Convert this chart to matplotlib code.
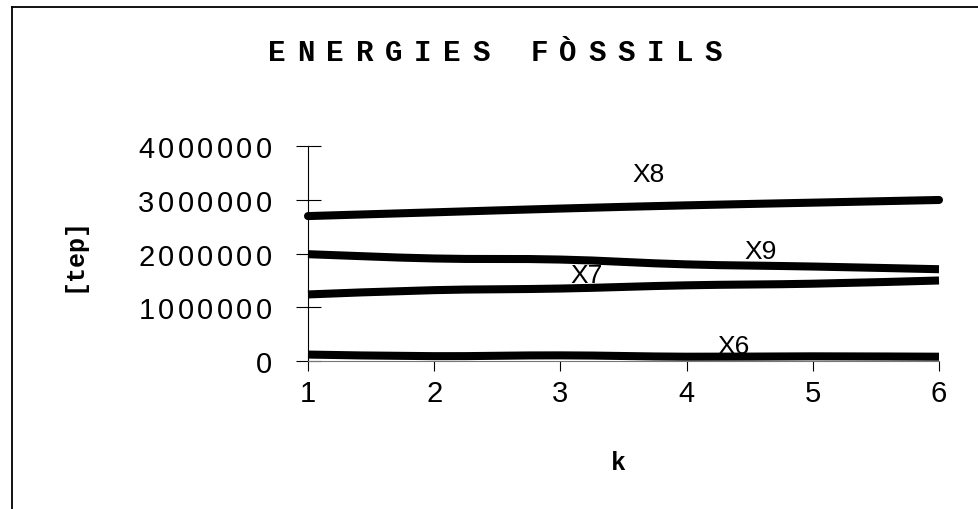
import numpy as np
import matplotlib
matplotlib.use("Agg")
import matplotlib.pyplot as plt
from matplotlib.path import Path
from matplotlib.patches import PathPatch
from matplotlib.lines import Line2D
import matplotlib.transforms as mtransforms

# ---- data -------------------------------------------------------------
k = [1, 2, 3, 4, 5, 6]
x6 = [120000, 90000, 105000, 80000, 87000, 80000]
x7 = [1240000, 1320000, 1350000, 1410000, 1440000, 1500000]
x8 = [2700000, 2770000, 2840000, 2900000, 2950000, 3000000]
x9 = [1990000, 1910000, 1890000, 1800000, 1760000, 1710000]
series_names = ["X6", "X7", "X8", "X9"]
series_values = [x6, x7, x8, x9]
label_k = [4.37, 3.21, 3.70, 4.59]
label_y = [280000, 1600000, 3490000, 2050000]
y_ticks = [0, 1000000, 2000000, 3000000, 4000000]
title = "ENERGIES FÒSSILS"
x_title = "k"
y_title = "[tep]"

W, H, DPI = 979, 510, 100
MONO = ["Liberation Mono", "DejaVu Sans Mono"]
SANS = ["Liberation Sans Narrow", "Liberation Sans", "DejaVu Sans"]


def smooth_path(xs, ys):
    """Cubic Bezier path through the points (Catmull-Rom style tangents)."""
    xs = np.asarray(xs, float)
    ys = np.asarray(ys, float)
    n = len(xs)
    verts = [(xs[0], ys[0])]
    codes = [Path.MOVETO]
    for i in range(n - 1):
        a = i - 1 if i > 0 else i
        b = i + 2 if i + 2 < n else i + 1
        c1 = (xs[i] + (xs[i + 1] - xs[a]) / 6, ys[i] + (ys[i + 1] - ys[a]) / 6)
        c2 = (xs[i + 1] - (xs[b] - xs[i]) / 6, ys[i + 1] - (ys[b] - ys[i]) / 6)
        verts += [c1, c2, (xs[i + 1], ys[i + 1])]
        codes += [Path.CURVE4] * 3
    return Path(verts, codes)


fig = plt.figure(figsize=(W / DPI, H / DPI), dpi=DPI)
fig.patch.set_facecolor("white")

# outer frame (left and top edges visible)
fx = 12 / W
fy = 1 - 8 / H
fig.add_artist(Line2D([fx, fx], [-0.01, fy], transform=fig.transFigure,
                      color="black", lw=1.3))
fig.add_artist(Line2D([fx, 1.01], [fy, fy], transform=fig.transFigure,
                      color="black", lw=1.3))

left, right = 308 / W, 939 / W
bottom, top = 1 - 362 / H, 1 - 147.3 / H
ax = fig.add_axes([left, bottom, right - left, top - bottom])
ax.set_xlim(k[0], k[-1])
ax.set_ylim(y_ticks[0], y_ticks[-1])
for s in ("top", "right"):
    ax.spines[s].set_visible(False)
ax.spines["left"].set_linewidth(0.8)
ax.spines["bottom"].set_linewidth(0.8)
ax.spines["bottom"].set_color("#777777")

ax.set_yticks(y_ticks)
ax.tick_params(axis="y", direction="inout", length=18, width=0.8,
               labelleft=False)
ax.set_xticks(k)
ax.set_xticklabels([str(v) for v in k], fontsize=21, family=SANS)
ax.tick_params(axis="x", direction="out", length=7.2, width=0.8, pad=6)

# series
for name, vals in zip(series_names, series_values):
    cap = "round" if name == "X8" else "butt"
    ax.add_patch(PathPatch(smooth_path(k, vals), fill=False, lw=5.8,
                           edgecolor="black", capstyle=cap,
                           joinstyle="round", clip_on=False, zorder=3))

for name, lx, ly in zip(series_names, label_k, label_y):
    ax.text(lx, ly, name, fontsize=19, family=SANS, ha="center",
            va="center", zorder=4)

# y tick labels with widened digit spacing
blend = mtransforms.blended_transform_factory(ax.transAxes, ax.transData)
for v in y_ticks:
    s = str(v)
    for j, ch in enumerate(reversed(s)):
        off = -(44 + j * 19.6)
        tr = mtransforms.offset_copy(blend, fig=fig, x=off, y=0, units="dots")
        ax.text(0, v, ch, transform=tr, fontsize=21,
                family=["Liberation Sans", "DejaVu Sans"],
                ha="center", va="center_baseline", clip_on=False)

# spaced title
pitch = 29.1
x0 = 277
for i, ch in enumerate(title):
    if ch == " ":
        continue
    fig.text((x0 + i * pitch) / W, 1 - 61 / H, ch, fontsize=21,
             fontweight="bold", family=MONO, ha="center", va="baseline")

fig.text(73 / W, 1 - 255 / H, y_title, fontsize=18, fontweight="bold",
         family=MONO, rotation=90, ha="center", va="center")
fig.text(618 / W, 1 - 463 / H, x_title, fontsize=18, fontweight="bold",
         family=MONO, ha="center", va="center")

fig.savefig("out.png", dpi=DPI)
